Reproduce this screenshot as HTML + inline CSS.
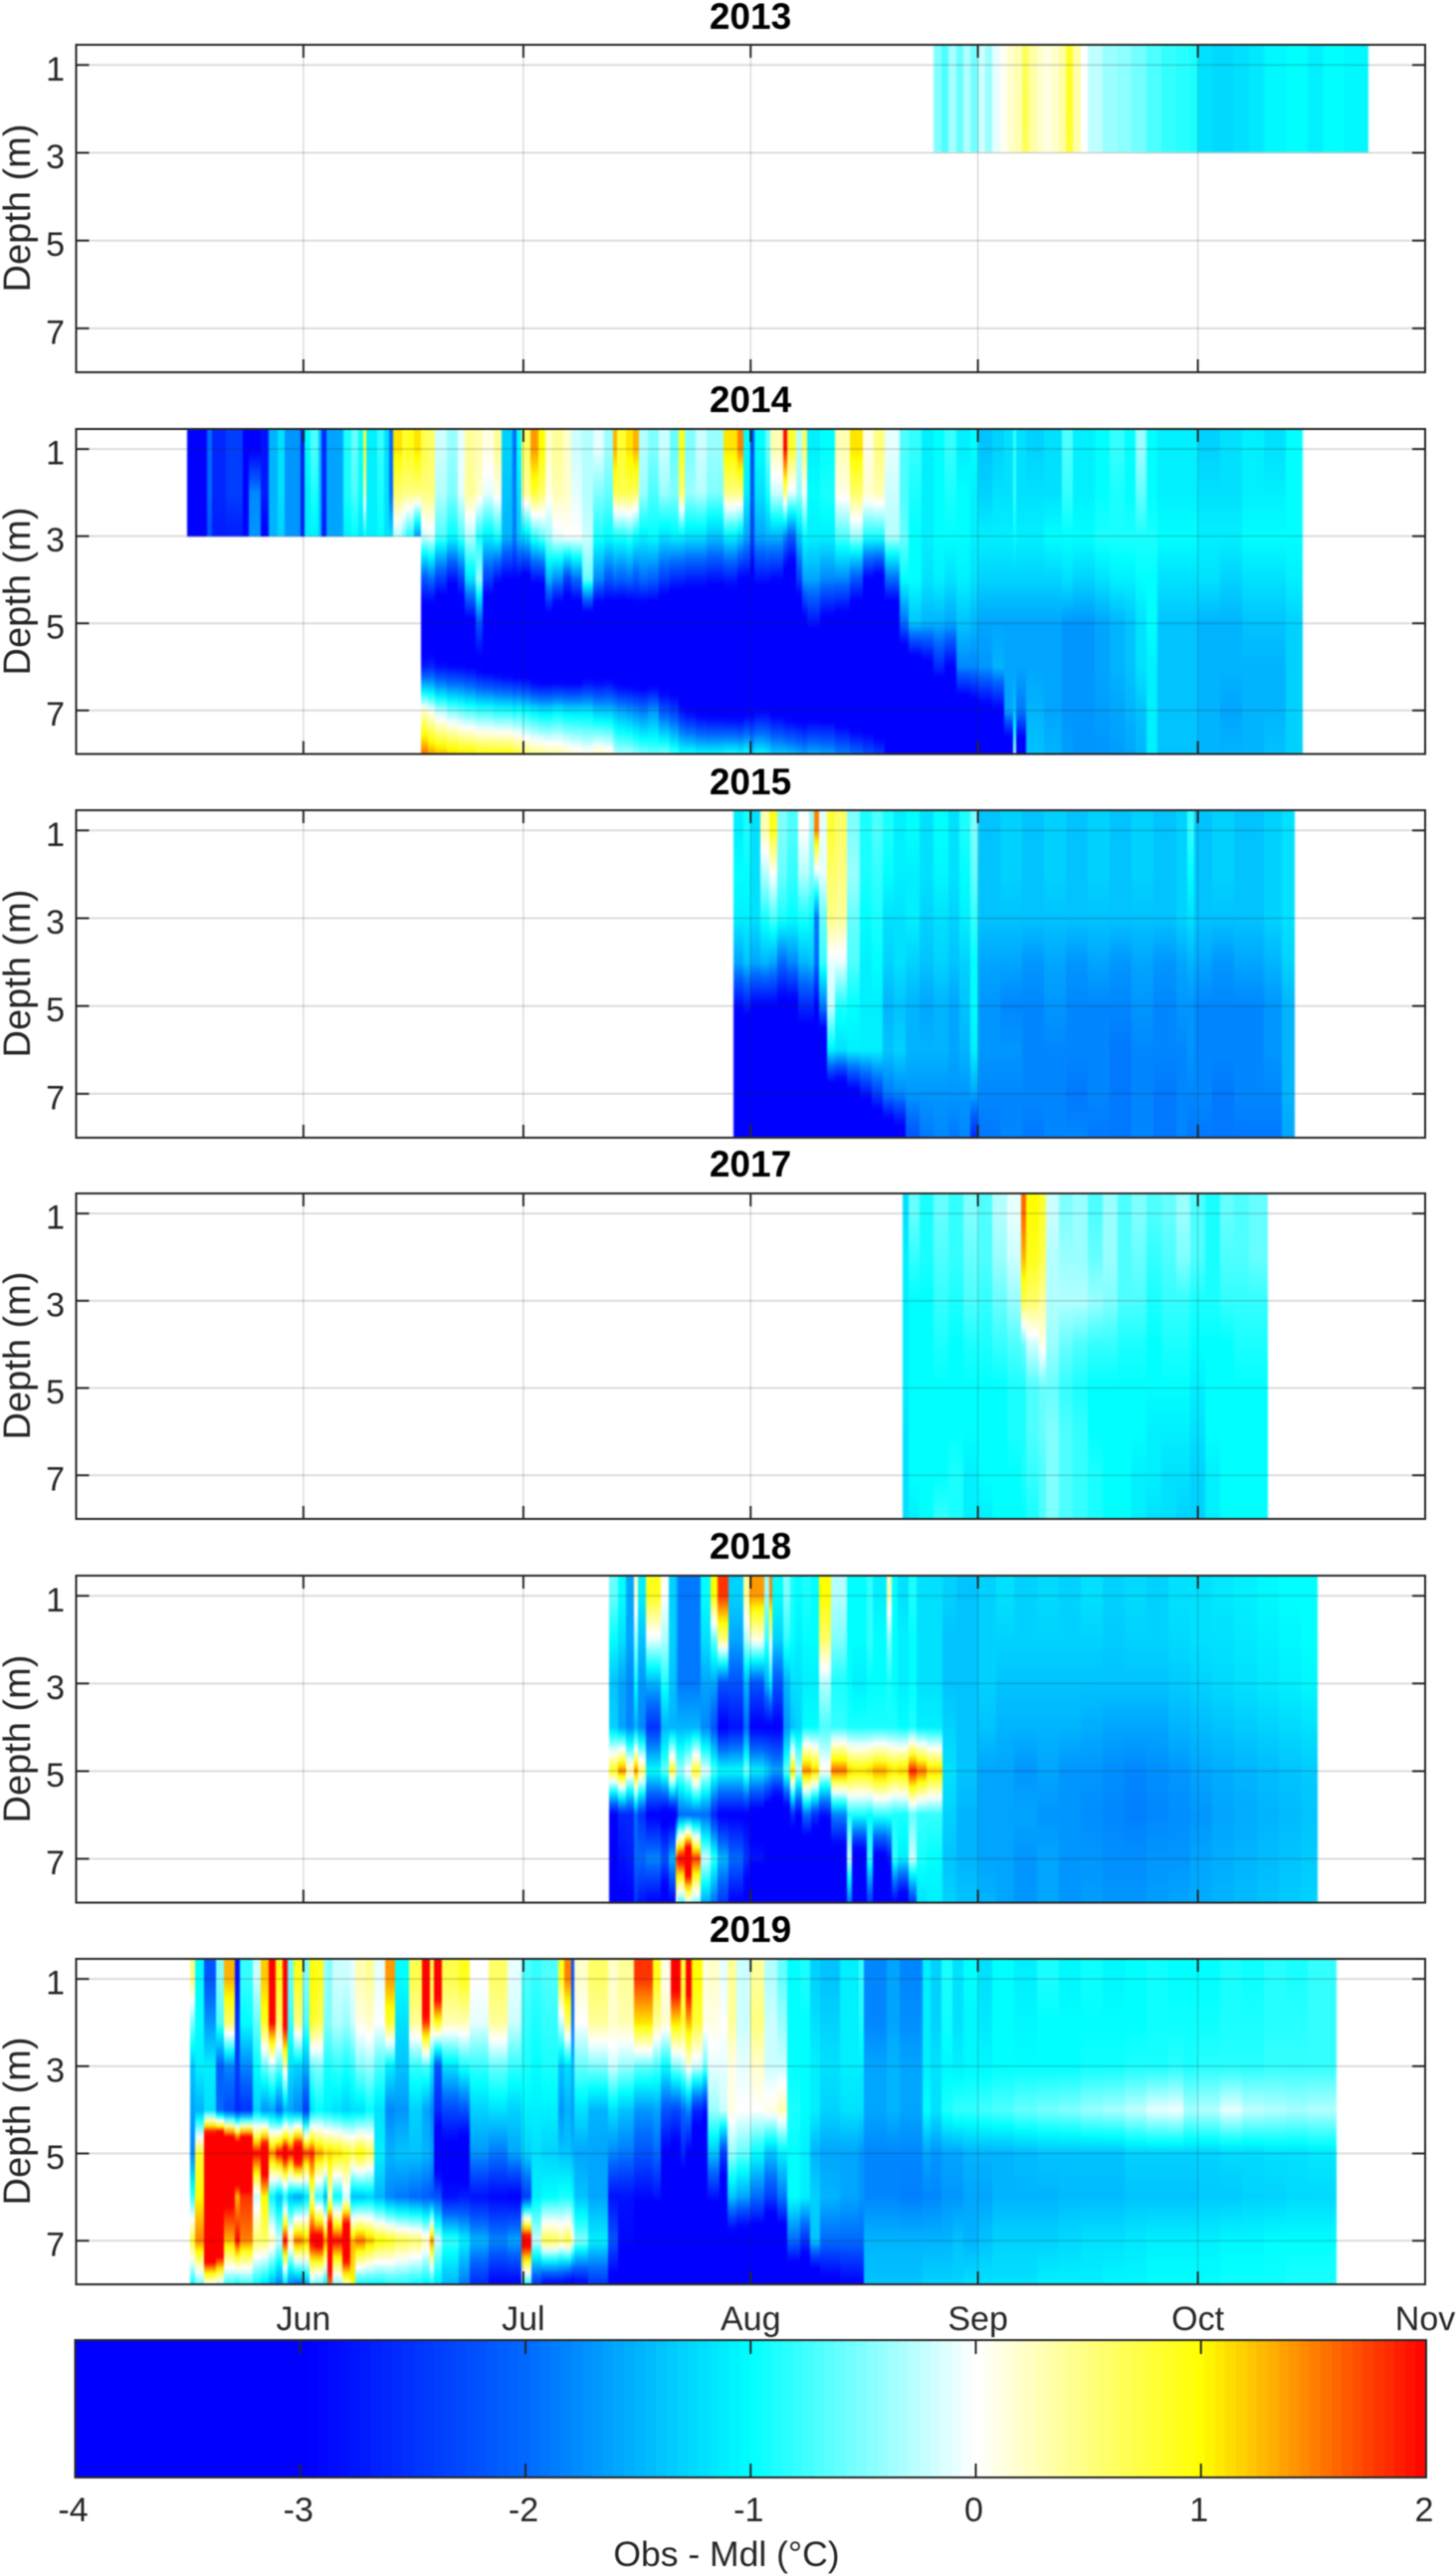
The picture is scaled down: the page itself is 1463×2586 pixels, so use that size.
<!DOCTYPE html>
<html lang="en">
<head>
<meta charset="utf-8">
<title>Obs - Mdl temperature difference by depth, 2013-2019</title>
<style>
html,body{margin:0;padding:0;background:#fff;}
#figure{display:block;width:1463px;height:2586px;filter:blur(0.5px);}
text{font-family:"Liberation Sans",Arial,sans-serif;fill:#262626;}
.title{font-size:37px;font-weight:bold;fill:#000;text-anchor:middle;}
.ylab{font-size:38px;text-anchor:middle;}
.tick{font-size:34px;}
.heat{filter:blur(0.9px);}
</style>
</head>
<body>
<svg id="figure" xmlns="http://www.w3.org/2000/svg" width="1463" height="2586" viewBox="0 0 1463 2586">
<rect x="0" y="0" width="1463" height="2586" fill="#fff"/>
<g id="plots"></g>
<text class="title" x="754" y="29">2013</text>
<text class="title" x="754" y="414">2014</text>
<text class="title" x="754" y="798">2015</text>
<text class="title" x="754" y="1182">2017</text>
<text class="title" x="754" y="1566">2018</text>
<text class="title" x="754" y="1951">2019</text>
<text class="ylab" transform="translate(30 209) rotate(-90)">Depth (m)</text>
<text class="ylab" transform="translate(30 594) rotate(-90)">Depth (m)</text>
<text class="ylab" transform="translate(30 978) rotate(-90)">Depth (m)</text>
<text class="ylab" transform="translate(30 1362) rotate(-90)">Depth (m)</text>
<text class="ylab" transform="translate(30 1747) rotate(-90)">Depth (m)</text>
<text class="ylab" transform="translate(30 2131) rotate(-90)">Depth (m)</text>
<text x="730" y="2578" text-anchor="middle" font-size="35.5">Obs - Mdl (°C)</text>
</svg>
<script>
const depthLevels=[1,2,3,4,5,6,7,8];
const depthTicks=[1,3,5,7];
const monthLabels=['Jun','Jul','Aug','Sep','Oct','Nov'];
const monthDays=[31,61,92,123,153,184];
const colorbarTicks=[-4,-3,-2,-1,0,1,2];
const colormapValues=[-4,-2.95,-2,-1,0,1,2];
const colormapReds=[0,0,0,0,255,255,255];
const colormapGreens=[0,0,105,255,255,255,0];
const colormapBlues=[255,255,255,255,255,0,0];

const days2013=[117,118,119,120,121,122,123,124,125,126,127,128,129,130,131,132,133,134,135,136,137,138,140,142,144,146,148,150,152,153,155,158,160,162,165,168,170,173,176.3];
const values2013=[[-.5,-.5,-.5],[-.7,-.7,-.7],[-.35,-.35,-.35],[-.6,-.6,-.6],[-.3,-.3,-.3],[-.55,-.55,-.55],[-.2,-.2,-.2],[-.4,-.4,-.4],[-.1,-.1,-.1],[.05,.05,.05],[.2,.2,.2],[.3,.3,.3],[.65,.7,.65],[.35,.35,.35],[.2,.2,.2],[.1,.1,.1],[.2,.2,.2],[.35,.35,.35],[.85,.85,.8],[.35,.35,.35],[0,0,0],[-.25,-.25,-.25],[-.4,-.4,-.4],[-.45,-.45,-.45],[-.55,-.55,-.55],[-.7,-.7,-.7],[-.8,-.8,-.8],[-.85,-.85,-.85],[-.9,-.9,-.9],[-1.2,-1.2,-1.2],[-1.25,-1.25,-1.25],[-1.2,-1.2,-1.2],[-1.15,-1.15,-1.15],[-1.05,-1.05,-1.05],[-1,-1,-1],[-1.1,-1.1,-1.1],[-1,-1,-1],[-1.05,-1.05,-1.05]];

const days2014=[15.2,17.8,18.5,20.4,22.8,23.5,25.2,26.3,27.5,28.5,30.6,31.1,32,33,33.5,34.1,36.4,37.5,38.5,39.1,39.6,41,42,42.7,43.2,44.4,45,46.1,47.1,48,49,50.5,52,53,54.5,55.5,57,58,59.5,60,60.8,62,63,64,65,66.5,67.5,69,70.5,72,73.2,73.8,75,76,76.7,78,79.5,81,82.2,83,84.5,86,88.3,90.2,91,92,92.5,94,94.7,96.4,97,98.2,99,99.7,101.5,103.5,105.5,107.3,108.8,110.3,112.3,113.5,115.3,117,118.5,120,122,123,125,126.6,127.8,128.2,129.5,132,134.5,136,139,141,143,144.5,146,147.5,150,153,156,159,162,165,167.3];
const values2014=[[-3,-3,-3],[-2,-2,-2.2],[-2.6,-2.6,-2.7],[-2.4,-2.4,-2.7],[-3,-3,-2.9],[-3,-1.8,-1.7],[-2.8,-2.7,-3],[-1.5,-1.5,-1.5],[-1.2,-1.2,-1.3],[-1.7,-1.7,-1.7],[-2.7,-2.7,-2.7],[-1,-1.1,-1.1],[-.7,-.9,-1.1],[-1.4,-1.4,-1.4],[-2.6,-2.6,-2.7],[-1.6,-1.6,-1.6],[-.9,-.9,-1.1],[-.6,-.7,-1],[-1,-1,-1.2],[.8,.3,-1],[-1.1,-1.1,-1.1],[-.8,-.9,-1],[-1.2,-1.2,-1.2],[-2,-2,-1.2],[1.1,.6,-.3],[.8,.5,-.6],[.9,.5,-.9],[1.1,.5,-1.7],
[.7,.5,-.2,-2.2,-3.6,-2.7,.2,1.6],[.6,.5,-.1,-2,-3.8,-2.6,0,1.4],[-.2,-.3,-.7,-2.4,-4,-2.8,-.3,1.3],[-.4,-.5,-1,-2.8,-4,-2.9,-.5,1.2],[-.1,-.1,-.7,-2.4,-3.8,-2.9,-.6,1.1],[.4,.4,-.3,-1.2,-3.2,-3,-.7,1.1],[.3,.2,-.9,-.4,-2.2,-3.2,-.8,1],[.1,-.1,-1.1,-2.4,-4,-3.3,-.8,1],[.4,.1,-.9,-2.8,-4,-3.4,-.9,1],[-1.3,-1.4,-1.5,-3,-4,-3.5,-.9,1],[-2,-1.9,-1.9,-3,-4,-3.6,-1,.9],[-1,-1.2,-1.4,-3,-4,-3.6,-.9,.8],[.6,.4,-1.2,-3.2,-4,-3.7,-1,.6],[1.4,.8,-.8,-2.8,-4,-4,-1.1,.5],[1,.6,-.6,-2.8,-4,-4,-1.2,.5],[.2,.1,-.4,-1.5,-3.4,-4,-1.2,.4],[.4,.3,-.1,-1.8,-4,-4,-1.1,.4],[.2,.2,0,-2.4,-4,-4,-1.2,.3],[-.2,-.1,0,-2,-4,-4,-1.2,.2],[-.3,-.3,-.2,-.6,-3.8,-3.7,-1.2,.1],[-.1,-.5,-.9,-1.8,-4,-3.7,-1.4,.3],[-.4,-.6,-1,-2.2,-3.8,-3.6,-1.4,.2],[1.3,.7,-.9,-2,-4,-3.8,-1.5,-.2],[.8,.7,-.9,-2.1,-4,-4,-1.6,-.3],[1.1,.7,-.8,-2,-4,-4,-1.7,-.3],[1.3,.6,-1,-2.2,-3.6,-4,-1.8,-.4],[-.3,-.4,-1.1,-2,-3.8,-4,-1.9,-.5],[-.5,-.7,-1,-2.1,-3.8,-4,-1.7,-.6],[-.2,-.4,-1.2,-2.4,-4,-4,-2.2,-.5],[-.6,-.5,-1.1,-2.6,-4,-4,-2.4,-.7],[.9,.6,-1.1,-2.6,-4,-4,-2.8,-.9],[-.5,-.4,-1.2,-2.7,-4,-4,-3,-.9],[-.2,-.3,-1.2,-2.7,-4,-4,-3.2,-1],[-.4,-.5,-1.4,-2.8,-4,-4,-3.3,-1],[1.1,.5,-1.1,-2.7,-4,-4,-3.4,-.9],
[1.5,.5,-1.3,-3,-4,-4,-3.4,-1],[-1,-1.1,-1.6,-3,-4,-4,-3.2,-.9],[-2.3,-2.2,-2.4,-3.2,-4,-4,-3.2,-1.2],[-1,-1.2,-1.6,-2.8,-4,-4,-3,-1],[-.6,-.9,-1.5,-2.8,-4,-4,-3,-1.1],[.3,-.2,-1.5,-2.9,-4,-4,-3.2,-1.3],[2,.6,-1.8,-3.4,-4,-4,-3.4,-1.3],[.8,-.1,-2.1,-3.6,-4,-4,-3.4,-1.4],[-.3,-.4,-1.4,-2.4,-4,-4,-3.5,-1.5],[.6,0,-1,-1.6,-3.2,-4,-3.6,-1.6],[-1.1,-1,-1.1,-1.6,-2.8,-4,-3.4,-1.5],[-1,-.9,-1.1,-1.8,-3.2,-4,-3.4,-1.6],[.3,.1,-.7,-1.8,-3.4,-4,-3.6,-1.8],[1.1,.6,-.4,-2.2,-3.8,-4,-3.8,-2],[.1,.2,-.9,-3,-4,-4,-3.8,-2.2],[.5,.3,-.9,-3.2,-4,-4,-3.9,-2.4],[-.1,-.2,-.3,-2,-4,-4,-4,-3.2],[-.7,-.7,-.6,-1,-2,-4,-4,-3.8],[-.8,-.9,-1,-1,-1.4,-3.5,-4,-4],[-1.1,-1.1,-1.1,-1.2,-1.5,-3.2,-4,-4],[-1,-1,-1,-1.1,-1.5,-2.6,-4,-4],[-.8,-.9,-1,-1.2,-1.6,-3,-4,-4],[-1.1,-1,-1,-1.1,-1.4,-1.8,-3.6,-4],[-1,-1.1,-1.1,-1.2,-1.5,-1.8,-3.4,-4],[-1.4,-1.3,-1.1,-1.3,-1.6,-1.7,-3.2,-4],[-1.3,-1.2,-1.1,-1.3,-1.6,-1.5,-3,-4],[-1.2,-1.2,-1.1,-1.3,-1.6,-1.6,-1.6,-4],[-.8,-.8,-1,-1.3,-1.6,-1.6,-1.4,-.3],[-1.2,-1.2,-1.1,-1.3,-1.6,-1.6,-1.9,-3.6],[-1.3,-1.2,-1.1,-1.3,-1.6,-1.6,-1.5,-1.4],[-1.2,-1.2,-1,-1.3,-1.6,-1.6,-1.6,-1.5],[-.7,-.8,-1,-1.2,-1.7,-1.7,-1.7,-1.65],[-1.1,-1.1,-1,-1.3,-1.7,-1.7,-1.7,-1.7],[-1,-1,-.9,-1.2,-1.6,-1.6,-1.65,-1.7],[-.8,-.9,-.9,-1.1,-1.5,-1.5,-1.6,-1.65],[-1,-1,-.9,-1.1,-1.4,-1.4,-1.5,-1.6],[-.4,-.6,-.9,-1,-1.2,-1.2,-1.4,-1.5],[-1,-1,-.9,-1,-1,-1.1,-1.1,-1.1],[-1.1,-1.1,-1,-1.2,-1.4,-1.4,-1.4,-1.4],[-1.1,-1.1,-1,-1.2,-1.4,-1.4,-1.4,-1.4],[-1.3,-1.2,-1.1,-1.2,-1.5,-1.5,-1.5,-1.5],[-1.2,-1.2,-1.1,-1.3,-1.5,-1.5,-1.6,-1.5],[-1.1,-1.1,-1,-1.2,-1.4,-1.5,-1.5,-1.5],[-1.2,-1.1,-1,-1.2,-1.4,-1.5,-1.5,-1.4],[-1,-1,-1,-1.1,-1.3,-1.3,-1.3,-1.3]];

const days2015=[89.6,91,92,93.3,94.5,95.6,97,98.5,100,100.6,101.3,102.4,103.5,105.1,106.9,108.5,110,111.5,113.2,115,117,119,120.5,122,123,126,129,132,135,138,141,144,147,150,151.5,152.5,155,158,162,164.5,166.2];
const values2015=[[-1.1,-1,-1.1,-1.6,-2.9,-4,-4,-4],[-.9,-1,-1.1,-1.4,-2.7,-4,-4,-4],[-1.2,-1.2,-1.2,-1.6,-3,-4,-4,-4],[.3,-.3,-.9,-1.5,-3,-4,-4,-4],[.9,0,-.7,-1.6,-3,-4,-4,-4],[-.5,-.6,-.9,-2,-3.2,-4,-4,-4],[-.7,-.8,-1,-1.8,-3.2,-4,-4,-4],[0,-.3,-.9,-1.5,-2.6,-3.5,-4,-4],[-.4,-.5,-1,-1.4,-2.6,-3.5,-4,-4],[1.5,-.2,-1.9,-2,-3,-4,-4,-4],[-.1,-.1,-.6,-.8,-1.9,-4,-4,-4],[.8,.6,.5,-.1,-.2,-1.1,-3.6,-4],[.6,.5,.4,-.1,-.9,-1.2,-3.8,-4],[-.5,-.4,-.6,-.7,-1,-1.1,-3.2,-4],[-.9,-.9,-1,-1.1,-1.1,-1.1,-2.8,-4],[-.7,-.8,-.9,-1,-1.1,-1.1,-2.4,-4],[-.9,-1,-1.2,-1.3,-1.5,-1.4,-1.9,-3.8],[-1.1,-1.1,-1.2,-1.2,-1.4,-1.3,-1.8,-3.4],[-1,-1.1,-1.1,-1.3,-1.5,-1.5,-1.7,-2.2],[-1.2,-1.2,-1.3,-1.4,-1.6,-1.5,-1.7,-1.9],[-1,-1.05,-1.2,-1.3,-1.5,-1.5,-1.7,-1.8],[-1.2,-1.2,-1.3,-1.4,-1.6,-1.6,-1.7,-1.9],[-.9,-1,-1.1,-1.3,-1.4,-1.5,-1.7,-1.8],[-.5,-.6,-.8,-1,-1,-1.1,-1.6,-2.6],[-1.4,-1.4,-1.4,-1.6,-1.7,-1.7,-1.8,-1.9],[-1.3,-1.3,-1.4,-1.6,-1.8,-1.7,-1.8,-1.8],[-1.4,-1.4,-1.4,-1.7,-1.8,-1.8,-1.8,-1.9],[-1.3,-1.3,-1.4,-1.6,-1.7,-1.8,-1.8,-1.8],[-1.4,-1.4,-1.4,-1.7,-1.8,-1.8,-1.9,-1.8],[-1.3,-1.3,-1.4,-1.6,-1.8,-1.8,-1.8,-1.9],[-1.4,-1.4,-1.4,-1.7,-1.8,-1.9,-1.9,-1.9],[-1.3,-1.3,-1.4,-1.6,-1.7,-1.8,-1.8,-1.8],[-1.4,-1.4,-1.4,-1.7,-1.8,-1.8,-1.9,-1.9],[-1.3,-1.3,-1.3,-1.6,-1.7,-1.8,-1.8,-1.8],[-.8,-1,-1.2,-1.5,-1.7,-1.7,-1.8,-1.9],[-1.4,-1.4,-1.4,-1.6,-1.8,-1.8,-1.8,-1.9],[-1.3,-1.3,-1.4,-1.7,-1.8,-1.8,-1.9,-1.9],[-1.4,-1.4,-1.4,-1.6,-1.8,-1.8,-1.8,-1.9],[-1.3,-1.3,-1.3,-1.5,-1.7,-1.7,-1.8,-1.9],[-1.2,-1.2,-1.2,-1.3,-1.5,-1.5,-1.5,-1.6]];

const days2017=[112.7,113.5,115,117,119,121,123,125,127,128.9,129.5,131.3,132.3,134,136,138,140,142,144,146,148,150,152,154,156,158,160,162.5];
const values2017=[[-1.2,-1.1,-1.1,-1.1,-1.1,-1.2,-1.2,-1.2],[-.6,-.8,-1,-1,-1,-1,-1,-1.1],[-.9,-.9,-1,-1,-1,-1,-1,-1],[-.6,-.7,-.8,-.9,-1,-1,-1,-.8],[-.8,-.8,-.9,-1,-1,-1,-.9,-.9],[-.5,-.6,-.7,-.9,-1,-1,-1.1,-1.1],[-.7,-.7,-.8,-.9,-1,-1,-1,-1.1],[-.3,-.4,-.6,-.8,-1,-1,-1,-1],[-.1,-.2,-.4,-.7,-.9,-.9,-1,-1],[1.6,1.3,.7,-.6,-.9,-.9,-.9,-1],[1,.9,.6,-.2,-.7,-.7,-.8,-.9],[.8,.7,.4,.1,-.6,-.6,-.7,-.7],[-.2,-.3,-.3,-.4,-.6,-.5,-.5,-.5],[-.5,-.4,-.3,-.6,-.8,-.7,-.7,-.7],[-.4,-.4,-.3,-.7,-.9,-.8,-.8,-.8],[-.7,-.6,-.4,-.8,-1,-1,-.9,-.9],[-.4,-.4,-.5,-.8,-1,-1,-1,-1],[-.7,-.7,-.7,-.9,-1,-1,-1,-1],[-.5,-.6,-.7,-.9,-1,-1,-1.1,-1.1],[-.7,-.8,-.9,-1,-1,-1.1,-1.1,-1.2],[-.6,-.7,-.8,-.9,-1,-1.1,-1.2,-1.2],[-.4,-.5,-.8,-.9,-1,-1.1,-1.2,-1.3],[-.7,-.7,-.9,-1,-1.1,-1.2,-1.3,-1.3],[-.9,-.9,-.9,-1,-1,-1,-1.1,-1.1],[-.6,-.7,-.8,-1,-1,-1,-1,-1],[-.7,-.7,-.8,-.9,-1,-1,-1,-1],[-.6,-.6,-.8,-.9,-1,-1,-1,-1]];

const days2018=[72.7,73.9,75,76.1,76.6,77.7,79.8,80.9,81.8,82,83,84,85.2,86.6,87.5,89,91,91.8,93.8,94.5,95,96.5,97.4,98.1,99,100.2,101.3,103,105.1,105.8,107.8,108.7,110.5,111.2,112.1,113.5,114.6,116,118.2,120,123,125.5,128,131,134,137,140,143,146,149,152,155,158,161,164,167,169.3];
const values2018=[[-.6,-1,-1.4,-1.3,.9,-3,-3.2,-3.5],[-1,-1.2,-1.6,-1.6,1.5,-2.6,-2.8,-3],[-1.6,-1.6,-1.8,-1.8,.4,-2.6,-2.7,-3],[.2,-.4,-1,-1.5,1.5,-2,-2,-2.5],[-1.1,-1.4,-1.7,-1.8,.6,-2.5,-2,-2.8],[.9,-.1,-1.5,-2.5,-1,-3,-1.8,-3],[0,-.3,-.9,-1.5,-.6,-3.2,-2.2,-3.5],[-1.3,-1.3,-1.4,-1.5,.8,-3.3,-1.5,-3],[-1.5,-1.5,-1.6,-1.5,-.3,-3,1.8,0],[-1.9,-1.9,-1.9,-1.5,-.4,-2,2.2,-.8],[-1.9,-1.9,-1.9,-1.5,0,-2,3.5,-.2],[-1.9,-1.9,-1.9,-1.5,.8,-2,1.8,-.5],[-1,-1.2,-1.6,-1.8,-.1,-2,-.2,-1.6],[1,-.6,-1.6,-2.2,-.7,-2.6,-.8,-2],[1.8,.5,-2.2,-3,-1,-3,-1.5,-2.5],[-1.3,-1.6,-2.2,-2.8,-1,-3,-2,-3],[.4,-.3,-1.5,-2,-.5,-3,-2.5,-3.5],[1.4,.1,-2.2,-3,-1.1,-3.2,-2.8,-4],[-.4,-.8,-1.5,-3,-1.3,-3.5,-3,-4],[1.5,.2,-1,-3,-1.5,-3.6,-3.2,-4],[-1,-1.3,-2.2,-3,-1.6,-4,-3.5,-4],[-.5,-.8,-1.5,-1.7,-.6,-3.5,-4,-4],[-.9,-1,-1.2,-1.4,1.1,-2.5,-4,-4],[-1,-1.1,-1.2,-1.3,-.2,-3,-4,-4],[-.9,-1,-1.1,-1,1.5,-2,-4,-4],[-1,-1,-1.1,-1,1.2,-2.5,-4,-4],[1,.6,-.3,-.7,.1,-2.8,-4,-4],[-.3,-.5,-.9,-.8,1.6,-1.8,-3.5,-4],[-1,-1,-1,-.9,1.2,-.9,-.2,-2],[-1,-1,-1.1,-.9,1.1,-.9,-3.5,-4],[-.8,-.8,-1,-.9,1.2,-1,-.8,-2.5],[-1.1,-1,-1,-.9,1.4,-.8,-3.2,-4],[.3,-.5,-.9,-.9,1.2,-.8,-2.8,-3.8],[-1,-1,-1,-.9,1.1,-.9,-.8,-3],[-1.2,-1.1,-1.1,-1,1.2,-.9,-1.1,-3.5],[-.9,-1,-1,-.9,1.9,-.6,-.2,-2.5],[-1.2,-1.2,-1.2,-1.1,1.6,-.8,-.9,-1.2],[-1.2,-1.2,-1.2,-1.1,1.2,-.8,-1,-1.1],[-1.3,-1.4,-1.4,-1.3,-1.2,-1.3,-1.4,-1.3],[-1.4,-1.4,-1.4,-1.4,-1.4,-1.5,-1.5,-1.4],[-1.3,-1.3,-1.3,-1.4,-1.6,-1.6,-1.6,-1.5],[-1.2,-1.3,-1.4,-1.5,-1.6,-1.6,-1.6,-1.6],[-1.3,-1.3,-1.4,-1.5,-1.7,-1.6,-1.7,-1.7],[-1.25,-1.3,-1.4,-1.5,-1.6,-1.7,-1.6,-1.6],[-1.3,-1.3,-1.4,-1.5,-1.7,-1.7,-1.7,-1.7],[-1.2,-1.3,-1.4,-1.55,-1.7,-1.75,-1.7,-1.65],[-1.3,-1.35,-1.4,-1.6,-1.75,-1.8,-1.75,-1.7],[-1.25,-1.3,-1.4,-1.6,-1.8,-1.85,-1.75,-1.7],[-1.3,-1.3,-1.4,-1.6,-1.75,-1.8,-1.7,-1.65],[-1.2,-1.25,-1.35,-1.5,-1.7,-1.75,-1.7,-1.6],[-1.2,-1.2,-1.3,-1.45,-1.6,-1.7,-1.6,-1.55],[-1.15,-1.2,-1.25,-1.4,-1.55,-1.6,-1.55,-1.5],[-1.1,-1.15,-1.2,-1.35,-1.5,-1.55,-1.5,-1.45],[-1.05,-1.1,-1.15,-1.3,-1.45,-1.5,-1.45,-1.4],[-1,-1.05,-1.1,-1.25,-1.4,-1.45,-1.4,-1.35],[-1,-1,-1.05,-1.2,-1.35,-1.4,-1.35,-1.3]];

const days2019=[15.5,16.2,17.5,19.1,20.2,21.6,22.3,24.1,25.2,26.3,27.2,28.1,28.8,29.7,30.9,31.8,32.5,33.8,34.3,34.9,36.3,37.4,38.1,39.5,40.6,42.2,43.5,45.4,47.2,48.3,48.8,49.9,52.2,53.7,56.2,58.9,60.7,62.1,63.5,65.7,66.6,67.5,68,69.8,72.5,73.9,76.1,78.6,79.8,81.1,82.5,83.2,84,85.4,86.1,87.7,88.8,90,92,93.8,95.6,97,98.8,100.1,101.5,104.2,106.7,107.4,110.5,112.3,115.5,116.5,118,119.5,121,123,125,128,131,134,137,140,143,146,149,151,153,156,159,162,165,168,171.9];
const values2019=[[.5,-.5,-1.4,-1.6,-1.8,-.8,.8,-1],[-1,-1,-1.1,-1.5,.8,1,1.5,-.6],[-2.2,-1.7,-1.1,-1.2,5,3,4,0],[-.5,-.7,-2.1,-2,6,3,3.5,-.3],[1.3,.6,-1.8,-2.3,5,2.2,1.3,-.8],[-2.8,-2.5,-2.4,-2.6,4,1.3,2,-1],[-.8,-1,-1.8,-2.5,5,1.8,1.5,-.8],[-.2,-.6,-1,-1.3,2,-.2,.6,-1],[1.2,.9,-.6,-1.7,3,1,.6,-1.2],[2.5,2,-.3,-1.6,1.5,-1,.3,-1.5],[.9,.6,-.6,-2,2,-1.4,-.2,-1.8],[3,2.2,.3,-1.5,2.5,-.9,2,-1.2],[-.6,-.8,-1.2,-1.6,2,-1.4,.4,-1.8],[.9,.5,-1.3,-1.8,3,-1.6,1.6,-2],[-.5,-.7,-1.5,-2.4,1.8,-1.2,1.3,-1.6],[1,.9,-.6,-1.2,1.9,.5,2.2,-.5],[.9,.7,-.5,-1,1.4,-.8,2.4,-.7],[-.4,-.5,-.9,-1.1,1.1,-1.5,1.5,-1.1],[-.5,-.5,-.9,-1.1,1.2,.3,3,1.6],[-.2,-.3,-.8,-1.2,1.1,-1,2,-.5],[-.2,-.4,-.9,-1.3,.9,-.2,3.5,.3],[-.1,-.2,-.8,-1.2,.7,-1.4,1.3,1],[.3,.1,-.5,-1.2,1,-1.4,1.6,-1],[.4,.2,-.4,-1,.7,-1.3,1.3,-1],[-.1,0,-.7,-1.2,-1.1,-1.5,1,-1],[1.4,.8,-1.1,-1.8,-1.5,-1.8,.9,-.9],[-1,-1.2,-1.4,-1.7,-1.4,-1.9,.7,-.9],[.7,.4,-.8,-1.3,-1.4,-2,.6,-1],[3,1.8,-.7,-1.6,-1.5,-2.1,.3,-1.1],[.7,.5,-1.1,-1.8,-1.6,-2.2,1.5,-1],[3,.9,-2.2,-2.6,-3.5,-2.2,-.2,-1.2],[.7,.3,-1.2,-2.3,-3.2,-2.8,-.8,-1.5],[.9,.3,-.9,-2.2,-3.5,-2.7,-1.1,-1.9],[0,-.1,-.8,-1.3,-1.7,-2.8,-1.5,-2.6],[.6,.4,-.6,-1.2,-1.9,-2.9,-1.8,-3],[-.1,-.2,-.8,-1.3,-1.6,-3,-1.6,-3],[-.7,-.8,-.9,-1.1,-1.3,-2.4,2.5,-.9],[-.8,-.9,-1,-1.1,-1.2,-1.1,-.2,-2.5],[-.7,-.8,-.9,-1.1,-1.3,-1,.7,-3],[.9,-.2,-1.4,-1.7,-1.4,-.9,.5,-3],[1.5,.6,-1.2,-1.5,-1.4,-.9,.7,-3.2],[-2.3,-2,-1.5,-1.7,-1.5,-1,.2,-3.3],[.2,0,-.6,-1.2,-1.6,-1.4,-.5,-3],[.6,.4,-.5,-1.5,-1.6,-1.6,-1.1,-2.5],[.2,.2,-.2,-1.2,-1.8,-2.8,-2.2,-3.2],[.4,.3,-.4,-1.4,-1.9,-2.8,-2.9,-3.5],[1.8,1.1,-.6,-1.7,-2.2,-2.9,-3.5,-4],[.9,.4,-.7,-1.6,-2,-2.8,-4,-4],[.1,.2,-1,-2.2,-3,-3.5,-4,-4],[2.4,1.1,-.5,-2.3,-3.2,-3.6,-4,-4],[.8,.8,-.3,-2,-2.6,-3.5,-4,-4],[2.4,1.3,.1,-1.8,-3,-4,-4,-4],[1,.8,-.2,-2.6,-3.6,-4,-4,-4],[.1,.1,-.6,-2.8,-3.5,-4,-4,-4],[.2,.1,-.1,-.4,-1.4,-2.8,-4,-4],[-.1,0,-.1,-.2,-2.4,-3.5,-4,-4],[.4,.4,.1,.1,-.4,-1.4,-3.4,-4],[-.2,-.2,-.1,0,-.6,-1.6,-3.6,-4],[.4,.5,.2,0,-1,-2,-3.5,-4],[-.3,-.2,-.2,.1,-1.4,-2.4,-4,-4],[-.6,-.4,-.2,.3,-1.1,-1.9,-3.6,-4],[-1,-1,-1,-.9,-1,-1,-2,-4],[-.9,-1,-1,-1,-1.1,-1.1,-2.5,-4],[-1.3,-1.2,-1.1,-1.1,-1.5,-1.3,-1.4,-4],[-1.4,-1.3,-1.2,-1.3,-1.6,-1.5,-2,-3.2],[-1.1,-1.1,-1.1,-1.2,-1.6,-1.6,-2,-3],[-.8,-.9,-1.1,-1.2,-1.7,-1.7,-2,-3],[-1.8,-1.8,-1.6,-1.6,-1.8,-1.8,-1.5,-1.4],[-1.6,-1.6,-1.5,-1.5,-1.8,-1.8,-1.5,-1.4],[-1.8,-1.75,-1.6,-1.6,-1.8,-1.85,-1.5,-1.4],[-1.1,-1.1,-1.1,-1,-1.6,-1.8,-1.5,-1.3],[-1.3,-1.3,-1.2,-1.2,-1.7,-1.8,-1.5,-1.3],[-.9,-.95,-1.05,-.9,-1.6,-1.7,-1.5,-1.3],[-1.2,-1.2,-1.1,-.8,-1.6,-1.7,-1.4,-1.3],[-1,-1.05,-1.05,-.8,-1.5,-1.6,-1.5,-1.2],[-1.2,-1.15,-1.05,-.75,-1.5,-1.6,-1.4,-1.2],[-1,-1,-1,-.7,-1.5,-1.5,-1.3,-1.2],[-1.1,-1.05,-1,-.6,-1.45,-1.5,-1.3,-1.2],[-.9,-1,-1,-.55,-1.4,-1.5,-1.3,-1.1],[-1.05,-1,-1,-.5,-1.4,-1.45,-1.25,-1.1],[-.95,-1,-.95,-.4,-1.4,-1.45,-1.2,-1.1],[-1.05,-1,-.95,-.35,-1.4,-1.45,-1.2,-1.05],[-1,-1,-.9,-.25,-1.3,-1.4,-1.15,-1.05],[-.95,-.95,-.9,-.1,-1.3,-1.4,-1.1,-1],[-1,-.95,-.85,-.05,-1.3,-1.4,-1.1,-1],[-1,-.95,-.9,-.35,-1.3,-1.4,-1.1,-1],[-1,-.95,-.85,-.3,-1.3,-1.35,-1.1,-1],[-.9,-.9,-.85,-.1,-1.25,-1.35,-1.05,-.95],[-.95,-.9,-.85,-.25,-1.25,-1.3,-1.05,-.95],[-.85,-.85,-.8,-.3,-1.2,-1.3,-1,-.95],[-.9,-.85,-.8,-.35,-1.2,-1.25,-1,-.9],[-.8,-.8,-.8,-.3,-1.15,-1.25,-1,-.9]];

const SVG_NS='http://www.w3.org/2000/svg';
const plots=document.getElementById('plots');
const defs=document.createElementNS(SVG_NS,'defs');
plots.appendChild(defs);
let gradientCount=0;

function make(tag,parent,attrs){
  const node=document.createElementNS(SVG_NS,tag);
  for(const key in attrs){node.setAttribute(key,attrs[key]);}
  parent.appendChild(node);
  return node;
}
function lerp(a,b,t){return a+(b-a)*t;}
function colorOf(v){
  const n=colormapValues.length;
  if(v<=colormapValues[0]){return 'rgb('+colormapReds[0]+','+colormapGreens[0]+','+colormapBlues[0]+')';}
  for(let i=1;i<n;i++){
    if(v<=colormapValues[i]){
      const t=(v-colormapValues[i-1])/(colormapValues[i]-colormapValues[i-1]);
      return 'rgb('+Math.round(lerp(colormapReds[i-1],colormapReds[i],t))+','+Math.round(lerp(colormapGreens[i-1],colormapGreens[i],t))+','+Math.round(lerp(colormapBlues[i-1],colormapBlues[i],t))+')';
    }
  }
  return 'rgb('+colormapReds[n-1]+','+colormapGreens[n-1]+','+colormapBlues[n-1]+')';
}
const AXIS_LEFT=76.5, AXIS_RIGHT=1432, DAY_MAX=184;
function xDay(d){return AXIS_LEFT+d*(AXIS_RIGHT-AXIS_LEFT)/DAY_MAX;}
const DEPTH_TOP=0.54, DEPTH_BOTTOM=8;

function fillFor(v0,v1){
  if(v0===v1){return colorOf(v0);}
  const id='cg'+(gradientCount++);
  const grad=make('linearGradient',defs,{id:id,x1:0,y1:0,x2:0,y2:1});
  const stops=8;
  for(let s=0;s<=stops;s++){
    const t=s/stops;
    make('stop',grad,{offset:t,'stop-color':colorOf(lerp(v0,v1,t))});
  }
  return 'url(#'+id+')';
}

function drawPanel(year,days,values,top,bottom){
  const group=make('g',plots,{});
  
  
  const yDepth=d=>top+(d-DEPTH_TOP)*(bottom-top)/(DEPTH_BOTTOM-DEPTH_TOP);
  const heat=make('g',group,{'shape-rendering':'crispEdges',class:'heat'});
  
  
  for(let j=0;j<values.length;j++){
    const x0=Math.round(xDay(days[j]));
    const x1=Math.round(xDay(days[j+1]));
    if(x1<=x0){continue;}
    const col=values[j];
    const yt=Math.round(yDepth(DEPTH_TOP));
    const y1=Math.round(yDepth(depthLevels[0]));
    const topCell=make('rect',heat,{x:x0,y:yt,width:x1-x0,height:y1-yt,fill:colorOf(col[0])});
    
    
    for(let i=0;i+1<col.length;i++){
      const ya=Math.round(yDepth(depthLevels[i]));
      const yb=Math.round(yDepth(depthLevels[i+1]));
      const cell=make('rect',heat,{x:x0,y:ya,width:x1-x0,height:yb-ya,fill:fillFor(col[i],col[i+1])});
      
      
    }
  }
  monthDays.forEach(d=>{
    const x=xDay(d);
    if(d<DAY_MAX){
      const g=make('line',group,{x1:x,x2:x,y1:top,y2:bottom,stroke:'#262626','stroke-opacity':0.16,'stroke-width':1.5});
      
      
      const tTop=make('line',group,{x1:x,x2:x,y1:top,y2:top+13,stroke:'#262626','stroke-width':2});
      
      
      const tBot=make('line',group,{x1:x,x2:x,y1:bottom-13,y2:bottom,stroke:'#262626','stroke-width':2});
      
      
    }
  });
  depthTicks.forEach(d=>{
    const y=yDepth(d);
    const g=make('line',group,{x1:AXIS_LEFT,x2:AXIS_RIGHT,y1:y,y2:y,stroke:'#262626','stroke-opacity':0.16,'stroke-width':2});
    
    
    const tL=make('line',group,{x1:AXIS_LEFT,x2:AXIS_LEFT+13,y1:y,y2:y,stroke:'#262626','stroke-width':2});
    
    
    const tR=make('line',group,{x1:AXIS_RIGHT-13,x2:AXIS_RIGHT,y1:y,y2:y,stroke:'#262626','stroke-width':2});
    
    
    const label=make('text',group,{x:65,y:y+15.5,'text-anchor':'end',class:'tick'});
    
    
    label.textContent=String(d);
  });
  const box=make('rect',group,{x:AXIS_LEFT,y:top,width:AXIS_RIGHT-AXIS_LEFT,height:bottom-top,fill:'none',stroke:'#262626','stroke-width':2});
  
  
}

drawPanel(2013,days2013,values2013,45,374);
drawPanel(2014,days2014,values2014,431,757.5);
drawPanel(2015,days2015,values2015,814,1143);
drawPanel(2017,days2017,values2017,1199,1526);
drawPanel(2018,days2018,values2018,1583,1911.5);
drawPanel(2019,days2019,values2019,1968,2295);

monthLabels.forEach((m,i)=>{
  const t=make('text',plots,{x:xDay(monthDays[i]),y:2341,'text-anchor':'middle',class:'tick'});
  
  
  t.textContent=m;
});

const CB_LEFT=75.5, CB_RIGHT=1433, CB_TOP=2351, CB_BOTTOM=2489;
const cbMin=colorbarTicks[0], cbMax=colorbarTicks[colorbarTicks.length-1];
function xColor(v){return CB_LEFT+(v-cbMin)*(CB_RIGHT-CB_LEFT)/(cbMax-cbMin);}
const colorbar=make('g',plots,{});


const cbSteps=128;
const cbRamp=make('g',colorbar,{'shape-rendering':'crispEdges'});
for(let k=0;k<cbSteps;k++){
  const v0=cbMin+(cbMax-cbMin)*k/cbSteps;
  const v1=cbMin+(cbMax-cbMin)*(k+1)/cbSteps;
  const x0=Math.round(xColor(v0)), x1=Math.round(xColor(v1));
  const seg=make('rect',cbRamp,{x:x0,y:CB_TOP,width:x1-x0,height:CB_BOTTOM-CB_TOP,fill:colorOf((v0+v1)/2)});
  
  
}
colorbarTicks.forEach(v=>{
  const x=xColor(v);
  if(v>cbMin&&v<cbMax){
    const a=make('line',colorbar,{x1:x,x2:x,y1:CB_TOP,y2:CB_TOP+14,stroke:'#262626','stroke-width':2});
    
    
    const b=make('line',colorbar,{x1:x,x2:x,y1:CB_BOTTOM-14,y2:CB_BOTTOM,stroke:'#262626','stroke-width':2});
    
    
  }
  const t=make('text',colorbar,{x:x-2,y:2533,'text-anchor':'middle',class:'tick'});
  
  
  t.textContent=String(v);
});
const cbBox=make('rect',colorbar,{x:CB_LEFT,y:CB_TOP,width:CB_RIGHT-CB_LEFT,height:CB_BOTTOM-CB_TOP,fill:'none',stroke:'#262626','stroke-width':2});


</script>
</body>
</html>
